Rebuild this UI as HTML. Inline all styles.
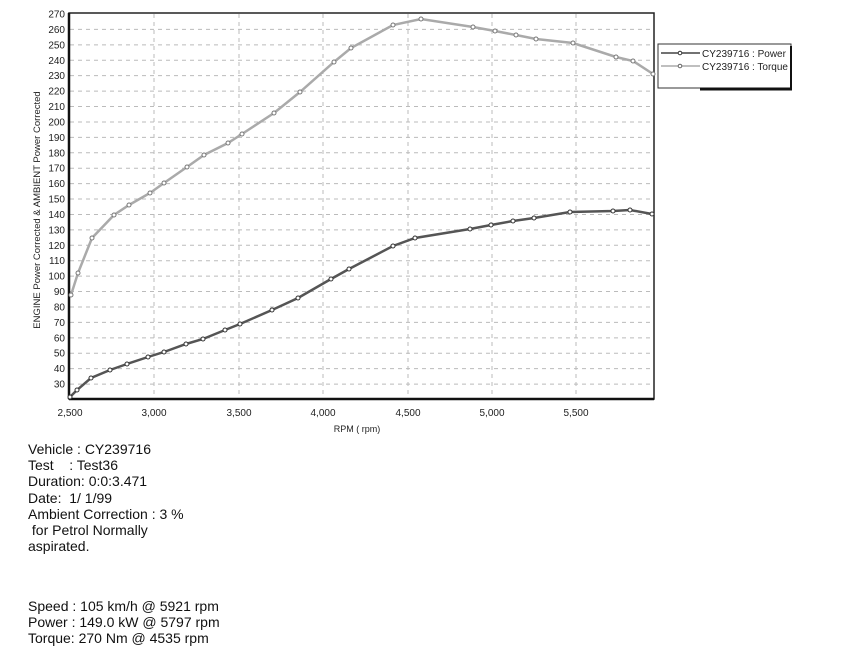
<!DOCTYPE html><html><head><style>body{margin:0;background:#fff;width:852px;height:655px;overflow:hidden;font-family:"Liberation Sans",sans-serif}
.t{position:absolute;left:28px;font-size:14px;color:#111;line-height:16.2px;white-space:pre}</style></head><body>
<svg width="852" height="655" style="position:absolute;left:0;top:0" font-family="Liberation Sans" >
<g stroke="#bbb" stroke-dasharray="4,4" stroke-width="1" id="g"></g>
<rect x="69" y="13" width="585" height="386" fill="none" stroke="#222" stroke-width="1.5"/>
<line x1="69" y1="13" x2="69" y2="399" stroke="#111" stroke-width="2.5"/>
<line x1="69" y1="399" x2="654" y2="399" stroke="#111" stroke-width="2.5"/>
<g id="yl" font-size="10" fill="#222" text-anchor="end"></g>
<g font-size="10" fill="#222" text-anchor="middle">
<text x="70" y="416">2,500</text><text x="154" y="416">3,000</text><text x="239" y="416">3,500</text><text x="323" y="416">4,000</text><text x="408" y="416">4,500</text><text x="492" y="416">5,000</text><text x="576" y="416">5,500</text>
<text x="357" y="432" font-size="9">RPM ( rpm)</text></g>
<text transform="translate(40,210) rotate(-90)" font-size="9.5" text-anchor="middle" fill="#222">ENGINE Power Corrected &amp; AMBIENT Power Corrected</text>
<polyline id="tq" fill="none" stroke="#aaa" stroke-width="2.5" points="71,295 78,273 92,238 114,215 129,205 150,193 164,183 187,167 204,155 228,143 242,134 274,113 300,92 334,62 351,48 393,25 421,19 473,27 495,31 516,35 536,39 573,43 616,57 633,61 653,74"/>
<polyline id="pw" fill="none" stroke="#555" stroke-width="2.5" points="70,397 77,390 91,378 110,370 127,364 148,357 164,352 186,344 203,339 225,330 240,324 272,310 298,298 331,279 349,269 393,246 415,238 470,229 491,225 513,221 534,218 570,212 613,211 630,210 652,214"/>
<g id="dots"></g>
<rect x="658" y="44" width="133" height="44" fill="#fff" stroke="#333"/>
<line x1="700" y1="89" x2="792" y2="89" stroke="#111" stroke-width="3"/>
<line x1="791" y1="46" x2="791" y2="90" stroke="#111" stroke-width="2"/>
<line x1="661" y1="53" x2="700" y2="53" stroke="#444" stroke-width="1.5"/><circle cx="680" cy="53" r="1.8" fill="#fff" stroke="#333"/>
<line x1="661" y1="66" x2="700" y2="66" stroke="#aaa" stroke-width="1.5"/><circle cx="680" cy="66" r="1.8" fill="#fff" stroke="#666"/>
<text x="702" y="57" font-size="10" fill="#222">CY239716 : Power</text>
<text x="702" y="70" font-size="10" fill="#222">CY239716 : Torque</text>
</svg>
<div class="t" style="top:441px">Vehicle : CY239716
Test    : Test36
Duration: 0:0:3.471
Date:  1/ 1/99
Ambient Correction : 3 %
 for Petrol Normally
aspirated.</div>
<div class="t" style="top:598px">Speed : 105 km/h @ 5921 rpm
Power : 149.0 kW @ 5797 rpm
Torque: 270 Nm @ 4535 rpm</div>
<script>
var ns="http://www.w3.org/2000/svg",g=document.getElementById('g'),yl=document.getElementById('yl');
for(var v=30;v<=270;v+=10){var y=14+(270-v)*1.542;
if(v<270){var l=document.createElementNS(ns,'line');l.setAttribute('x1',70);l.setAttribute('x2',653);l.setAttribute('y1',y);l.setAttribute('y2',y);g.appendChild(l);}
var t=document.createElementNS(ns,'text');t.setAttribute('x',65);t.setAttribute('y',y+3.5);t.textContent=v;yl.appendChild(t);}
[154,239,323,408,492,576].forEach(function(x){var l=document.createElementNS(ns,'line');l.setAttribute('x1',x);l.setAttribute('x2',x);l.setAttribute('y1',14);l.setAttribute('y2',398);g.appendChild(l);});
var d=document.getElementById('dots');
['tq','pw'].forEach(function(id){var p=document.getElementById(id).getAttribute('points').trim().split(/\s+/);
p.forEach(function(s){var a=s.split(',');var c=document.createElementNS(ns,'circle');c.setAttribute('cx',a[0]);c.setAttribute('cy',a[1]);c.setAttribute('r',2);c.setAttribute('fill','#fff');c.setAttribute('stroke',id=='tq'?'#777':'#333');d.appendChild(c);});});
</script>
</body></html>
